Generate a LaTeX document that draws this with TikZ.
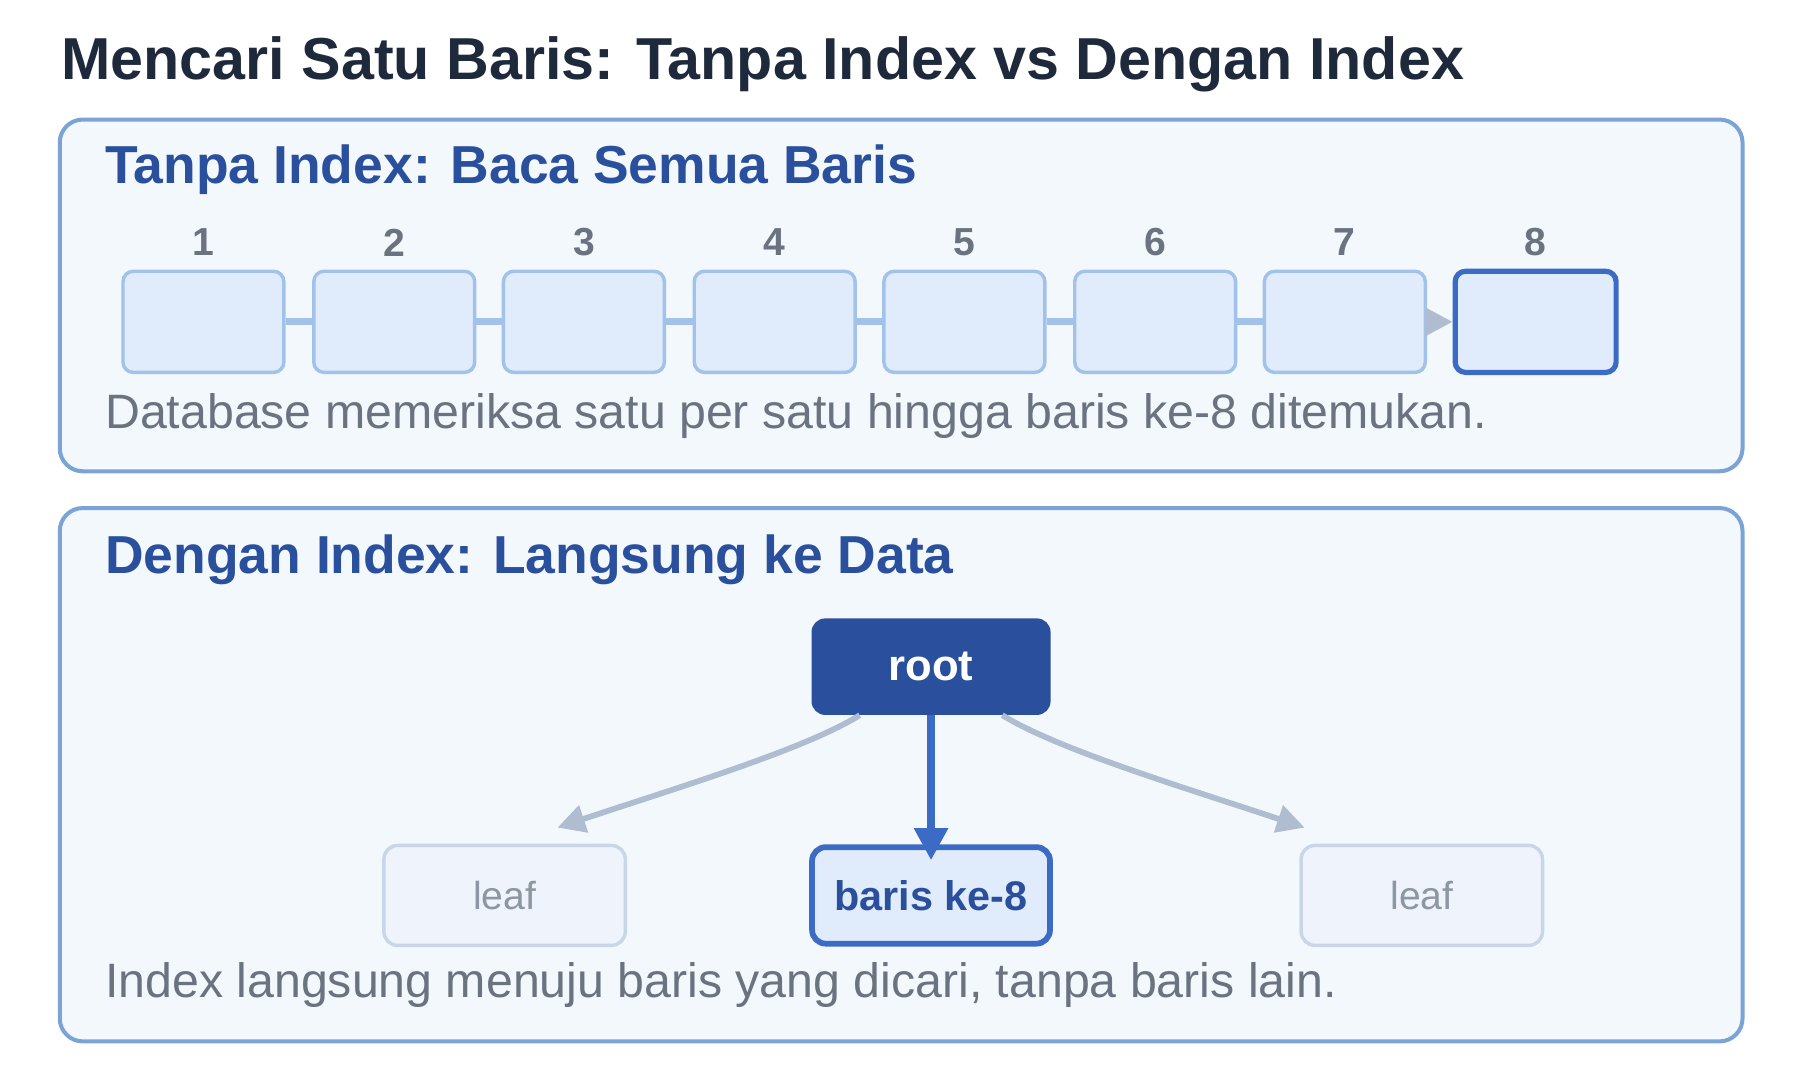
\documentclass[tikz,border=0pt]{standalone}
\usepackage{fontspec}
\setmainfont{Liberation Sans}
\usetikzlibrary{arrows.meta}
\definecolor{panelfill}{HTML}{F3F8FD}
\definecolor{panelline}{HTML}{7BA3D6}
\definecolor{rowfill}{HTML}{E0ECFB}
\definecolor{rowline}{HTML}{A3C2EA}
\definecolor{hitline}{HTML}{3B6BC4}
\definecolor{deepblue}{HTML}{2A4F9C}
\definecolor{titlecol}{HTML}{1E293B}
\definecolor{textgray}{HTML}{6B7280}
\definecolor{arrowgray}{HTML}{B0BDD0}
\definecolor{leaffill}{HTML}{EEF3FC}
\definecolor{leafline}{HTML}{C9D6E8}
\definecolor{leaftext}{HTML}{8D96A3}

\begin{document}
\begin{tikzpicture}[x=1pt, y=-1pt,
  panel/.style={draw=panelline, fill=panelfill, line width=3.5pt, rounded corners=20pt},
  row/.style={draw=rowline, fill=rowfill, line width=3pt, rounded corners=9pt,
    minimum width=140pt, minimum height=88pt},
  hit/.style={row, draw=hitline, line width=4.5pt},
  rowlink/.style={draw=rowline, line width=6pt},
  num/.style={font=\fontsize{34}{40}\selectfont\bfseries, text=textgray},
  head/.style={anchor=west, font=\fontsize{46.5}{54}\selectfont\bfseries, text=deepblue},
  desc/.style={anchor=west, font=\fontsize{42}{50}\selectfont, text=textgray},
  leaf/.style={draw=leafline, fill=leaffill, line width=3pt, rounded corners=12pt,
    minimum width=210pt, minimum height=87pt, text=leaftext, font=\fontsize{34}{40}\selectfont},
  garrow/.style={draw=arrowgray, line width=5pt, -{Triangle[length=24pt,width=24pt]}},
  ]
  \useasboundingbox (0,0) rectangle (1566,940);
  \node[anchor=west, font=\fontsize{51.5}{60}\selectfont\bfseries, text=titlecol] (title) at (50,56) {Mencari Satu Baris: Tanpa Index vs Dengan Index};
  % panel tanpa index
  \draw[panel] (52,104) rectangle (1516,410);
  \node[head] (head1) at (88,148) {Tanpa Index: Baca Semua Baris};
  \foreach \i/\x in {1/177,2/343,3/508,4/674,5/839,6/1005,7/1170} {
    \node[row] (r\i) at (\x,280) {};
    \node[num] (n\i) at (\x,211) {\i};
  }
  \node[hit] (r8) at (1336,280) {};
  \node[num] (n8) at (1336,211) {8};
  \foreach \a/\b in {1/2,2/3,3/4,4/5,5/6,6/7}
    \draw[rowlink] (r\a) -- (r\b);
  \draw[garrow] (r7) -- (r8);
  \node[desc] (desc1) at (88,362) {Database memeriksa satu per satu hingga baris ke-8 ditemukan.};
  % panel dengan index
  \draw[panel] (52,442) rectangle (1516,906);
  \node[head] (head2) at (88,487) {Dengan Index: Langsung ke Data};
  \node[fill=deepblue, rounded corners=12pt, minimum width=208pt, minimum height=84pt,
    text=white, font=\fontsize{38}{44}\selectfont\bfseries] (root) at (810,580) {root};
  \node[draw=hitline, fill=rowfill, line width=5pt, rounded corners=12pt,
    minimum width=207pt, minimum height=84pt, text=deepblue,
    font=\fontsize{36}{42}\selectfont\bfseries] (target) at (810,779) {baris ke-8};
  \node[leaf] (leafL) at (439,779) {leaf};
  \node[leaf] (leafR) at (1237,779) {leaf};
  \coordinate (tipL) at (485,720);
  \coordinate (tipR) at (1135,720);
  \draw[garrow] ([xshift=-62pt]root.south) .. controls (700,652) and (590,685) .. (tipL);
  \draw[garrow] ([xshift=62pt]root.south) .. controls (920,652) and (1030,685) .. (tipR);
  \draw[draw=hitline, line width=7pt, -{Triangle[length=28pt,width=28pt]}] (root) -- ([yshift=-14pt]target.north);
  \node[desc] (desc2) at (88,857) {Index langsung menuju baris yang dicari, tanpa baris lain.};
\end{tikzpicture}
\end{document}
